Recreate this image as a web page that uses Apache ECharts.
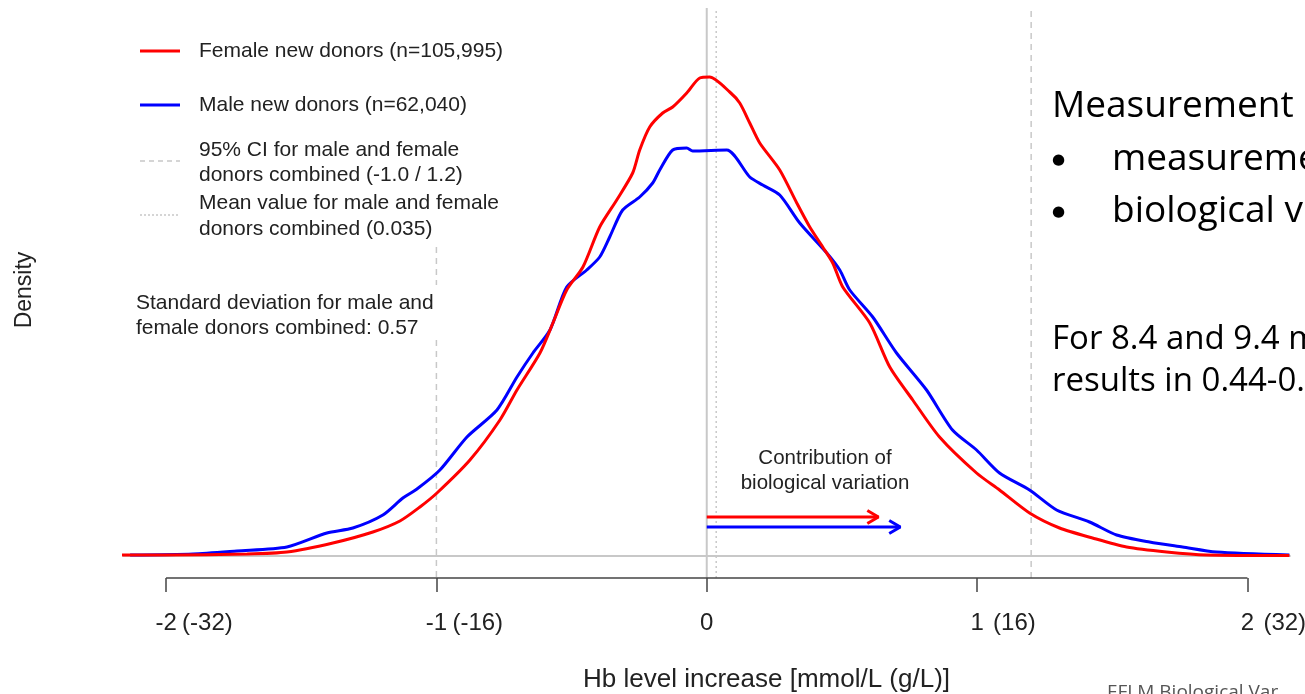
<!DOCTYPE html>
<html lang="en">
<head>
    <meta charset="utf-8">
    <title>Hb level increase density</title>
    <script type="text/javascript" src="https://cdn.jsdelivr.net/npm/echarts@6.0.0/dist/echarts.min.js"></script>
    <style>
        html, body { margin: 0; padding: 0; background: #fff; overflow: hidden; }
        #chart { width: 1305px; height: 694px; }
    </style>
</head>
<body>
<div id="chart"></div>
<script type="text/javascript">
    // density curves (x in mmol/L, y in arbitrary density units)
    var femaleX = [-2.163,-2.004,-1.700,-1.553,-1.383,-1.235,-1.135,-1.061,-0.998,-0.876,-0.765,-0.702,-0.617,-0.569,-0.518,-0.458,-0.396,-0.333,-0.274,-0.248,-0.211,-0.163,-0.126,-0.074,-0.026,0.011,0.085,0.122,0.159,0.196,0.270,0.333,0.381,0.429,0.466,0.503,0.603,0.677,0.762,0.861,0.998,1.083,1.194,1.305,1.427,1.553,1.701,1.848,2.155];
    var femaleY = [0.002,0.002,0.004,0.008,0.026,0.048,0.070,0.098,0.126,0.192,0.272,0.332,0.406,0.466,0.532,0.578,0.658,0.712,0.766,0.812,0.858,0.886,0.898,0.926,0.956,0.958,0.928,0.906,0.866,0.826,0.772,0.706,0.658,0.618,0.586,0.538,0.466,0.378,0.312,0.238,0.166,0.132,0.086,0.056,0.036,0.018,0.008,0.002,0.001];
    var maleX = [-2.133,-1.900,-1.738,-1.553,-1.405,-1.309,-1.198,-1.124,-1.072,-0.987,-0.887,-0.776,-0.702,-0.643,-0.580,-0.518,-0.444,-0.396,-0.359,-0.311,-0.248,-0.200,-0.174,-0.126,-0.074,-0.052,0.074,0.159,0.207,0.270,0.344,0.444,0.492,0.529,0.614,0.702,0.813,0.909,0.998,1.083,1.194,1.294,1.416,1.516,1.638,1.760,1.885,2.155];
    var maleY = [0.002,0.004,0.010,0.018,0.046,0.056,0.082,0.116,0.134,0.172,0.238,0.292,0.358,0.406,0.452,0.538,0.572,0.598,0.638,0.692,0.718,0.746,0.772,0.812,0.816,0.810,0.812,0.758,0.742,0.722,0.666,0.606,0.572,0.532,0.478,0.406,0.332,0.252,0.212,0.166,0.132,0.092,0.068,0.042,0.028,0.018,0.008,0.002];

    // reference values
    var ciLow = -1.0, ciHigh = 1.2, meanAll = 0.035;
    var baseRange = [-2.16, 2.16];
    // contribution arrows: end x and level, female / male
    var arrowEnds = [0.635, 0.716];
    var arrowLevels = [0.078, 0.058];

    // tick labels
    var tickValues = [-2, -1, 0, 1, 2];
    var tickMain = ['-2', '-1', '0', '1', '2'];
    var tickGl = ['(-32)', '(-16)', '', '(16)', '(32)'];

    var xLow = -2.2, xHigh = 2.2;
    var yLow = -0.044, yHigh = 1.1;
    var RED = '#ff0000', BLUE = '#0000ff', GREY = '#c8c8c8', AXIS = '#444';
    var FONT = '"Liberation Sans", Arial, sans-serif';
    var SLIDE = '"Open Sans", sans-serif';

    function zip(xs, ys) {
        var out = [];
        for (var i = 0; i < xs.length; i++) out.push([xs[i], ys[i]]);
        return out;
    }
    function tickIdx(v) {
        for (var i = 0; i < tickValues.length; i++) if (Math.abs(tickValues[i] - v) < 1e-6) return i;
        return -1;
    }
    function vline(x, y0, y1, type, width) {
        return {
            type: 'line', data: [[x, y0], [x, y1]], showSymbol: false, silent: true,
            lineStyle: { color: GREY, width: width, type: type }, z: 1
        };
    }
    function arrow(i, color) {
        var x = arrowEnds[i], y = arrowLevels[i];
        return [
            { type: 'line', data: [[0, y], [x, y]], showSymbol: false,
              lineStyle: { color: color, width: 3 }, z: 4 },
            { type: 'line', data: [[x - 0.041, y + 0.013], [x, y], [x - 0.041, y - 0.013]], showSymbol: false,
              lineStyle: { color: color, width: 3 }, z: 4 }
        ];
    }
    function txt(s, x, y, size, opts) {
        opts = opts || {};
        return {
            type: 'text', x: x, y: y, rotation: opts.rotation || 0,
            style: {
                text: s, fontSize: size, fontFamily: opts.family || FONT, fill: opts.fill || '#222',
                textAlign: opts.align || 'left', textVerticalAlign: 'middle'
            }
        };
    }
    function gline(x1, y1, x2, y2, color, width, dash) {
        return {
            type: 'line', shape: { x1: x1, y1: y1, x2: x2, y2: y2 },
            style: { stroke: color, lineWidth: width, lineDash: dash || null }
        };
    }

    var chart = echarts.init(document.getElementById('chart'));

    var series = [
        // density baseline
        { type: 'line', data: [[baseRange[0], 0], [baseRange[1], 0]], showSymbol: false, silent: true,
          lineStyle: { color: GREY, width: 2 }, z: 1 },
        // x axis line only between -2 and 2
        { type: 'line', data: [[tickValues[0], yLow], [tickValues[tickValues.length - 1], yLow]], showSymbol: false,
          silent: true, clip: false, lineStyle: { color: AXIS, width: 1.5 }, z: 2 },
        vline(0, yLow, 1.096, 'solid', 2),
        vline(meanAll, yLow, 1.096, [2, 3], 1.5),
        vline(ciHigh, yLow, 1.096, [6, 5], 1.5),
        vline(ciLow, 0.618, 0.542, [6, 5], 1.5),
        vline(ciLow, 0.432, yLow, [6, 5], 1.5),
        { name: 'Male new donors', type: 'line', data: zip(maleX, maleY), showSymbol: false, smooth: 0.25,
          lineStyle: { color: BLUE, width: 3 }, z: 3 },
        { name: 'Female new donors', type: 'line', data: zip(femaleX, femaleY), showSymbol: false, smooth: 0.25,
          lineStyle: { color: RED, width: 3 }, z: 3 }
    ].concat(arrow(0, RED), arrow(1, BLUE));

    var option = {
        animation: false,
        backgroundColor: '#fff',
        grid: { left: 112, right: 3.5, top: 6, bottom: 116, outerBoundsMode: 'none', containLabel: false },
        xAxis: [
            {
                type: 'value', min: xLow, max: xHigh,
                axisLine: { show: false, onZero: false },
                axisTick: { show: true, length: 14, customValues: tickValues, lineStyle: { color: AXIS, width: 1.5 } },
                splitLine: { show: false },
                axisLabel: {
                    customValues: tickValues,
                    fontSize: 24, fontFamily: FONT, color: '#222', margin: 33,
                    formatter: function (v) { var i = tickIdx(v); return i < 0 ? '' : tickMain[i]; }
                }
            },
            {
                type: 'value', min: xLow, max: xHigh, position: 'bottom',
                axisLine: { show: false, onZero: false }, axisTick: { show: false }, splitLine: { show: false },
                axisLabel: {
                    customValues: tickValues,
                    fontSize: 24, fontFamily: FONT, color: '#222', margin: 33, align: 'left',
                    padding: [0, 0, 0, 16],
                    formatter: function (v) { var i = tickIdx(v); return i < 0 ? '' : tickGl[i]; }
                }
            }
        ],
        yAxis: { type: 'value', min: yLow, max: yHigh, show: false, splitLine: { show: false } },
        series: series,
        graphic: [
            // legend
            gline(140, 51, 180, 51, RED, 3),
            txt('Female new donors (n=105,995)', 199, 51, 21),
            gline(140, 105, 180, 105, BLUE, 3),
            txt('Male new donors (n=62,040)', 199, 105, 21),
            gline(140, 161, 180, 161, GREY, 1.5, [5, 4]),
            txt('95% CI for male and female', 199, 150, 21),
            txt('donors combined (-1.0 / 1.2)', 199, 175, 21),
            gline(140, 215, 180, 215, GREY, 1.5, [2, 2]),
            txt('Mean value for male and female', 199, 203, 21),
            txt('donors combined (0.035)', 199, 229, 21),
            // annotations
            txt('Standard deviation for male and', 136, 303, 21),
            txt('female donors combined: 0.57', 136, 328, 21),
            txt('Contribution of', 825, 458, 20.5, { align: 'center' }),
            txt('biological variation', 825, 483, 20.5, { align: 'center' }),
            // axis titles
            txt('Hb level increase [mmol/L (g/L)]', 583, 680, 26),
            txt('Density', 25, 290, 23, { rotation: Math.PI / 2, align: 'center' }),
            // slide text on the right
            txt('Measurement', 1052, 106, 37, { family: SLIDE, fill: '#000' }),
            txt('\u25CF', 1052, 160, 15, { family: '"DejaVu Sans", sans-serif', fill: '#000' }),
            txt('measureme', 1112, 159, 37, { family: SLIDE, fill: '#000' }),
            txt('\u25CF', 1052, 212, 15, { family: '"DejaVu Sans", sans-serif', fill: '#000' }),
            txt('biological v', 1112, 211, 37, { family: SLIDE, fill: '#000' }),
            txt('For 8.4 and 9.4 m', 1052, 340, 33, { family: SLIDE, fill: '#000' }),
            txt('results in 0.44-0.', 1052, 382, 33, { family: SLIDE, fill: '#000' }),
            txt('EFLM Biological Var', 1107, 693, 19, { family: SLIDE, fill: '#555' })
        ]
    };

    chart.setOption(option);
</script>
</body>
</html>
